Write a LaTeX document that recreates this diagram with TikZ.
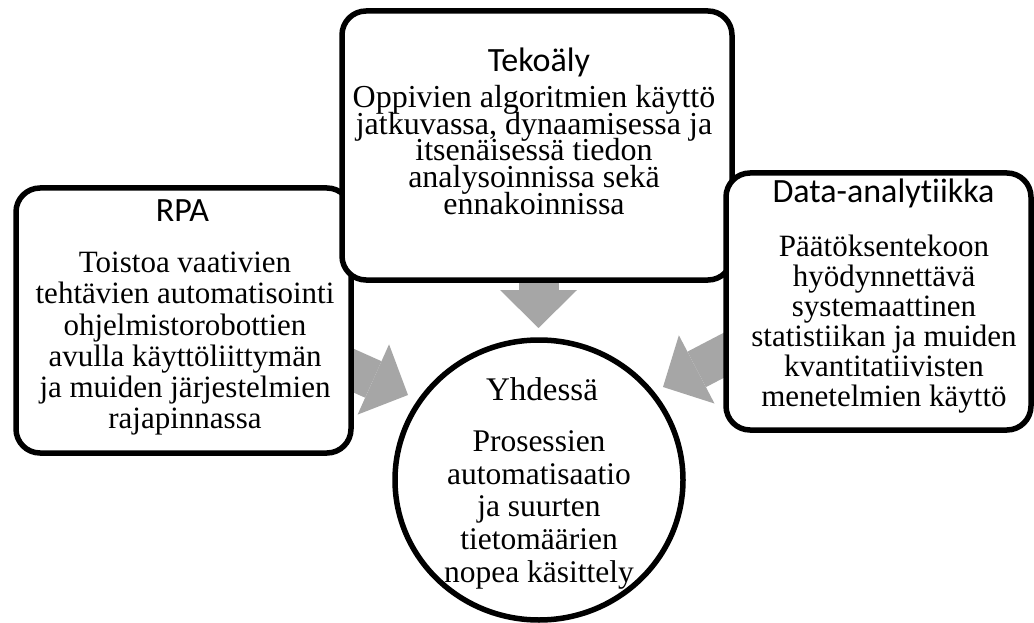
\documentclass[tikz,border=0pt]{standalone}
\usepackage{fontspec}
\setmainfont{Liberation Serif}
\newfontfamily\headfont[RawFeature=-liga]{Carlito}
\usetikzlibrary{arrows.meta,backgrounds,shapes.geometric}
\definecolor{arrowgray}{RGB}{166,166,166}

\begin{document}
\begin{tikzpicture}[x=1pt,y=-1pt,
  box/.style={draw,line width=5.5pt,rounded corners=24pt,fill=white,inner sep=0pt},
  head/.style={anchor=base,inner sep=0pt,font=\fontsize{34}{34}\selectfont\headfont},
  body/.style={anchor=north,align=center,inner sep=0pt},
  flow/.style={line width=40pt,draw=arrowgray,-{Triangle[length=38pt,width=77pt,line width=0pt]}}]
  \useasboundingbox (0,0) rectangle (1034,623);
  % boxes
  \node[box,minimum width=335pt,minimum height=265pt] (rpa) at (183.5,320.5) {};
  \node[box,minimum width=390pt,minimum height=269pt] (tek) at (537,145.5) {};
  \node[box,minimum width=305pt,minimum height=257pt] (dat) at (878.5,301.5) {};
  \node[draw,ellipse,line width=5.5pt,minimum width=288pt,minimum height=280pt,inner sep=0pt] (yht) at (539,480) {};
  % headings
  \node[head] (rpah) at (182.5,222) {RPA};
  \node[head] (tekh) at (539,72) {Tekoäly};
  \node[head] (dath) at (883.5,203) {Data-analytiikka};
  \node[head,font=\fontsize{33}{33}\selectfont] (yhth) at (542,400) {Yhdessä};
  % texts
  \node[body,font=\fontsize{31}{31.2}\selectfont] (rpab) at (185,252) {Toistoa vaativien\\tehtävien automatisointi\\ohjelmistorobottien\\avulla käyttöliittymän\\ja muiden järjestelmien\\rajapinnassa};
  \node[body,font={\fontsize{32}{26.7}\selectfont\lineskiplimit=-50pt}] (tekb) at (534,85) {Oppivien algoritmien käyttö\\jatkuvassa, dynaamisessa ja\\itsenäisessä tiedon\\analysoinnissa sekä\\ennakoinnissa};
  \node[body,font=\fontsize{31}{30}\selectfont] (datb) at (884,234.5) {Päätöksentekoon\\hyödynnettävä\\systemaattinen\\statistiikan ja muiden\\kvantitatiivisten\\menetelmien käyttö};
  \node[body,font=\fontsize{31.5}{32.7}\selectfont] (yhtb) at (539,430.5) {Prosessien\\automatisaatio\\ja suurten\\tietomäärien\\nopea käsittely};
  % arrows
  \coordinate (tipT) at (538.5,328);
  \coordinate (tipL) at (408,395);
  \coordinate (tipR) at (663,387);
  \begin{pgfonlayer}{background}
    \draw[flow] (tipT |- tek.center) -- (tipT);
    \draw[flow] ([yshift=26pt]rpa.center) -- (tipL);
    \draw[flow] ([yshift=27pt]dat.center) -- (tipR);
  \end{pgfonlayer}
\end{tikzpicture}
\end{document}
